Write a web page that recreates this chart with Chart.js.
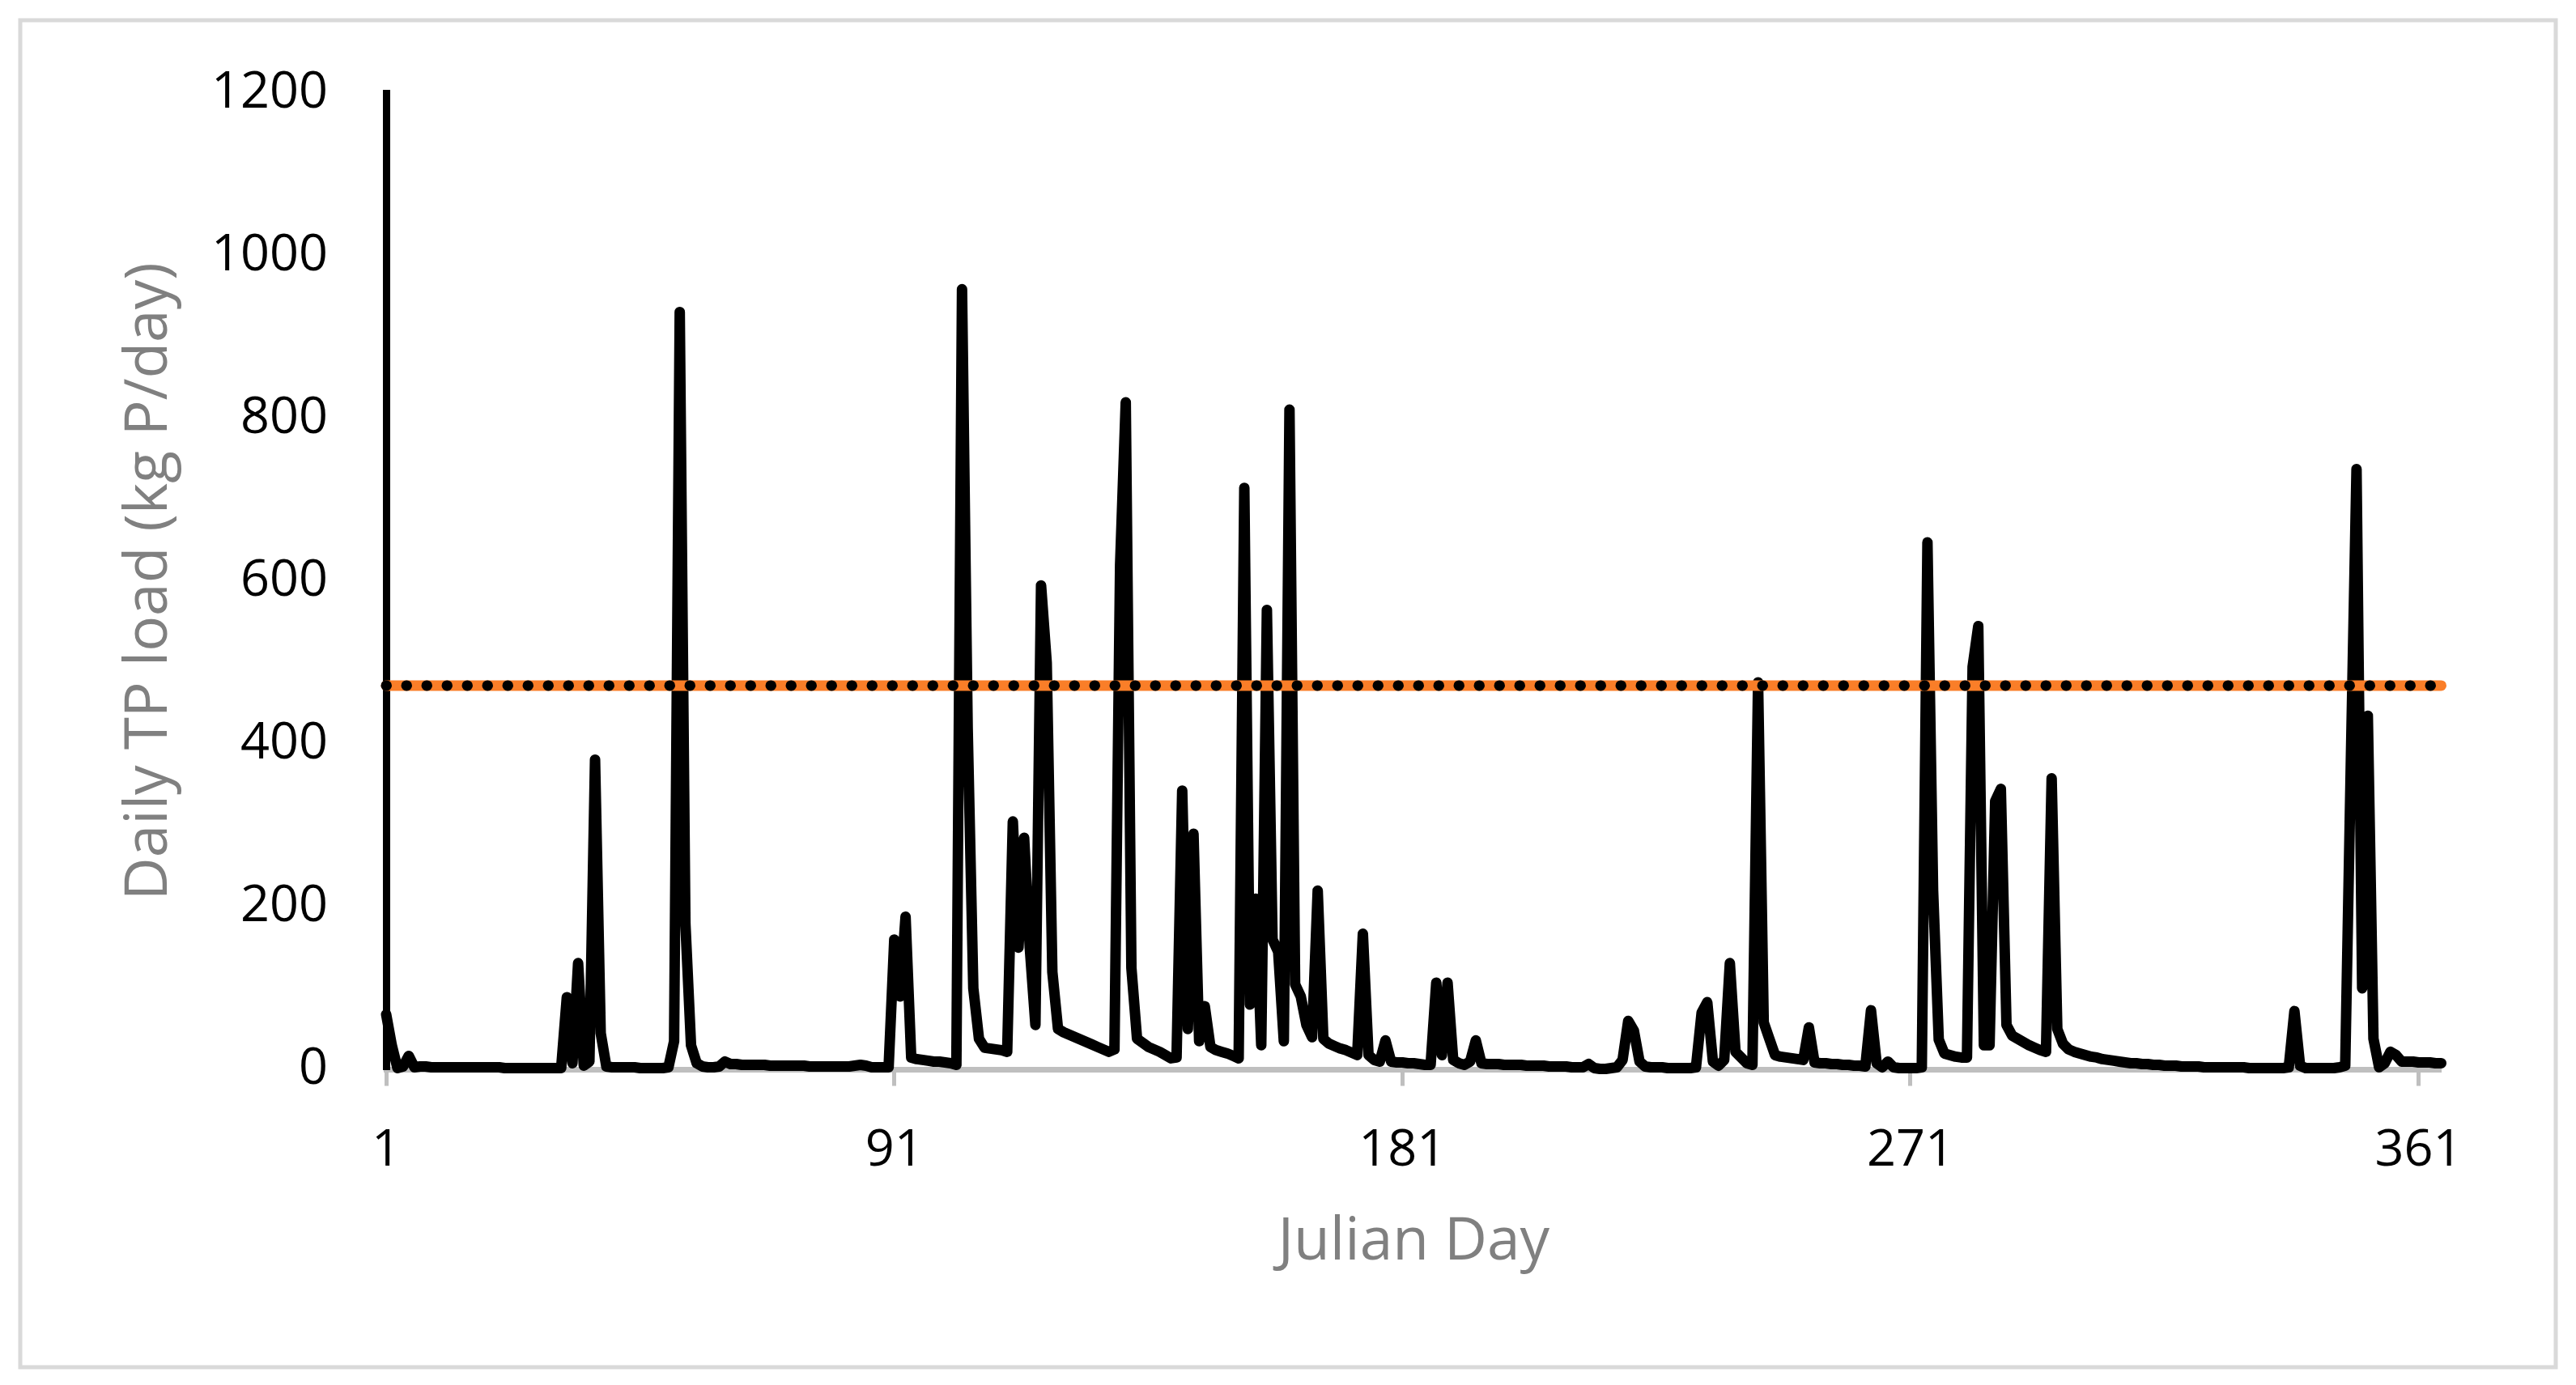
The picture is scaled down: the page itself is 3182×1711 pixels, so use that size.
<!DOCTYPE html>
<html>
<head>
<meta charset="utf-8">
<title>Daily TP load</title>
<script src="https://cdn.jsdelivr.net/npm/chart.js@4.4.1/dist/chart.umd.min.js"></script>
<style>
  html, body { margin: 0; padding: 0; background: #fff; overflow: hidden; }
  canvas { display: block; }
</style>
</head>
<body>
<canvas id="tpChart" width="3182" height="1711"></canvas>
<script>
const tickDays = [1, 91, 181, 271, 361];
const yTicks = [0, 200, 400, 600, 800, 1000, 1200];
const threshold = 472;

// daily TP load, kg P/day
const loadDay1to90 = [
    68, 30, 2, 4, 17, 3,
    4, 4, 3, 3, 3, 3, 3, 3, 3, 3, 3, 3, 3, 3, 3, 2, 2, 2, 2, 2, 2, 2, 2, 2, 2,
    2, 89, 8, 131, 5, 10, 381, 45, 4,
    3, 3, 3, 3, 3, 2, 2, 2, 2, 2,
    3, 35, 931, 180, 30, 8, 4, 3, 3, 4, 10,
    7, 7, 6, 6, 6, 6, 6, 5, 5, 5, 5, 5, 5, 5, 4, 4, 4, 4, 4, 4, 4, 4, 5, 6, 5, 3, 3, 3,
    3
];
const loadDay91to180 = [
    160, 90, 188, 15,
    13, 12, 11, 10, 10, 9, 8,
    6, 959, 420, 100, 38,
    27, 26, 25, 24, 22,
    305, 150, 285, 150, 55, 595, 500, 120, 50,
    46, 43, 40, 37, 34, 31, 28, 25, 22,
    25, 620, 820, 125, 38, 33,
    28, 25, 22, 18, 14,
    15, 343, 50, 290, 35, 78, 28,
    24, 22, 20, 17, 14,
    715, 80, 210, 30, 565, 160, 145, 35, 811, 105, 90, 55, 40, 220, 38,
    32, 29, 26, 24, 21, 18,
    167, 18, 12, 10, 36, 10,
    9
];
const loadDay181to270 = [
    9, 8, 8, 7, 6, 6,
    107, 18, 107, 12, 8, 6, 10, 36, 8,
    7, 7, 7, 6, 6, 6, 6, 5, 5, 5, 5, 4, 4, 4, 4, 3, 3, 3,
    7, 2, 1, 1, 2, 3, 12, 60, 48, 10,
    4, 3, 3, 3, 2, 2, 2, 2, 2, 3,
    70, 83, 10, 5, 12, 131, 22, 15, 8, 6, 476, 58, 38, 18,
    16, 15, 14, 13, 12,
    52, 9,
    8, 8, 7, 7, 6, 6, 5, 5, 4,
    73, 8, 3, 10,
    3, 2, 2
];
const loadDay271to365 = [
    2, 2, 3,
    648, 220, 37,
    20, 18, 16, 15, 15,
    495, 545, 30, 30, 330, 345, 55,
    42, 38, 34, 30, 27, 24, 22,
    358, 50, 32, 25,
    22, 20, 18, 16, 15, 13, 12, 11, 10, 9, 8, 8, 7, 7, 6, 6, 5, 5, 5, 4, 4, 4,
    4, 3, 3, 3, 3, 3, 3, 3, 3, 2, 2, 2, 2, 2, 2, 2,
    3, 72, 5,
    2, 2, 2, 2, 2, 2,
    3, 5, 380, 738, 100, 435, 38, 3, 8, 22, 18, 10,
    10, 10, 9, 9, 9, 8, 8
];

const dailyLoad = [...loadDay1to90, ...loadDay91to180, ...loadDay181to270, ...loadDay271to365];
const loadPoints = dailyLoad.map((v, i) => ({ x: i + 1, y: v }));
const lastDay = dailyLoad.length;
const thresholdPoints = [{ x: 1, y: threshold }, { x: lastDay, y: threshold }];

const tickFont = { family: 'Open Sans', size: 63 };
const titleFont = { family: 'Open Sans', size: 73 };

const framePlugin = {
    id: 'frame',
    beforeDraw(chart) {
        const ctx = chart.ctx;
        ctx.save();
        ctx.fillStyle = '#ffffff';
        ctx.fillRect(0, 0, chart.width, chart.height);
        ctx.strokeStyle = '#D9D9D9';
        ctx.lineWidth = 5;
        ctx.strokeRect(25, 25, 3132, 1664);
        ctx.restore();
    }
};

const config = {
    type: 'line',
    data: {
        datasets: [{
            label: 'Daily TP load',
            data: loadPoints,
            borderColor: '#000000',
            borderWidth: 13,
            borderJoinStyle: 'round',
            borderCapStyle: 'round',
            pointRadius: 0,
            tension: 0,
            clip: false,
            order: 3
        }, {
            label: 'Threshold',
            data: thresholdPoints,
            borderColor: '#FA7E28',
            borderWidth: 13,
            borderCapStyle: 'round',
            pointRadius: 0,
            clip: false,
            order: 2
        }, {
            label: 'Threshold dots',
            data: thresholdPoints,
            borderColor: '#000000',
            borderWidth: 13,
            borderDash: [0.5, 24.5],
            borderCapStyle: 'round',
            pointRadius: 0,
            clip: false,
            order: 1
        }]
    },
    options: {
        responsive: false,
        animation: false,
        devicePixelRatio: 1,
        layout: { padding: { left: 24, right: 166.5, top: 115, bottom: 21 } },
        plugins: {
            legend: { display: false },
            tooltip: { enabled: false }
        },
        scales: {
            x: {
                type: 'linear',
                min: 1,
                max: lastDay,
                afterBuildTicks: axis => { axis.ticks = tickDays.map(v => ({ value: v })); },
                afterFit: scale => { scale.height = 368.5; },
                grid: {
                    drawOnChartArea: false,
                    drawTicks: true,
                    tickLength: 20,
                    tickWidth: 5,
                    tickColor: '#BFBFBF'
                },
                border: { color: '#BFBFBF', width: 7 },
                ticks: {
                    padding: 43,
                    color: '#000000',
                    font: tickFont,
                    maxRotation: 0,
                    autoSkip: false,
                    callback: v => String(v)
                },
                title: {
                    display: true,
                    text: 'Julian Day',
                    color: '#808080',
                    font: titleFont,
                    padding: { top: 0, bottom: 111 }
                }
            },
            y: {
                min: 0,
                max: 1200,
                afterBuildTicks: axis => { axis.ticks = yTicks.map(v => ({ value: v })); },
                afterFit: scale => { scale.width = 453; },
                grid: { display: false, drawTicks: false },
                border: { color: '#000000', width: 9 },
                ticks: {
                    padding: 72,
                    color: '#000000',
                    font: tickFont,
                    callback: v => String(v)
                },
                title: {
                    display: true,
                    text: 'Daily TP load (kg P/day)',
                    color: '#808080',
                    font: titleFont,
                    padding: { top: 117, bottom: 0 }
                }
            }
        }
    },
    plugins: [framePlugin]
};

let ctx = document.getElementById('tpChart').getContext('2d');
new Chart(ctx, config);
</script>
</body>
</html>
